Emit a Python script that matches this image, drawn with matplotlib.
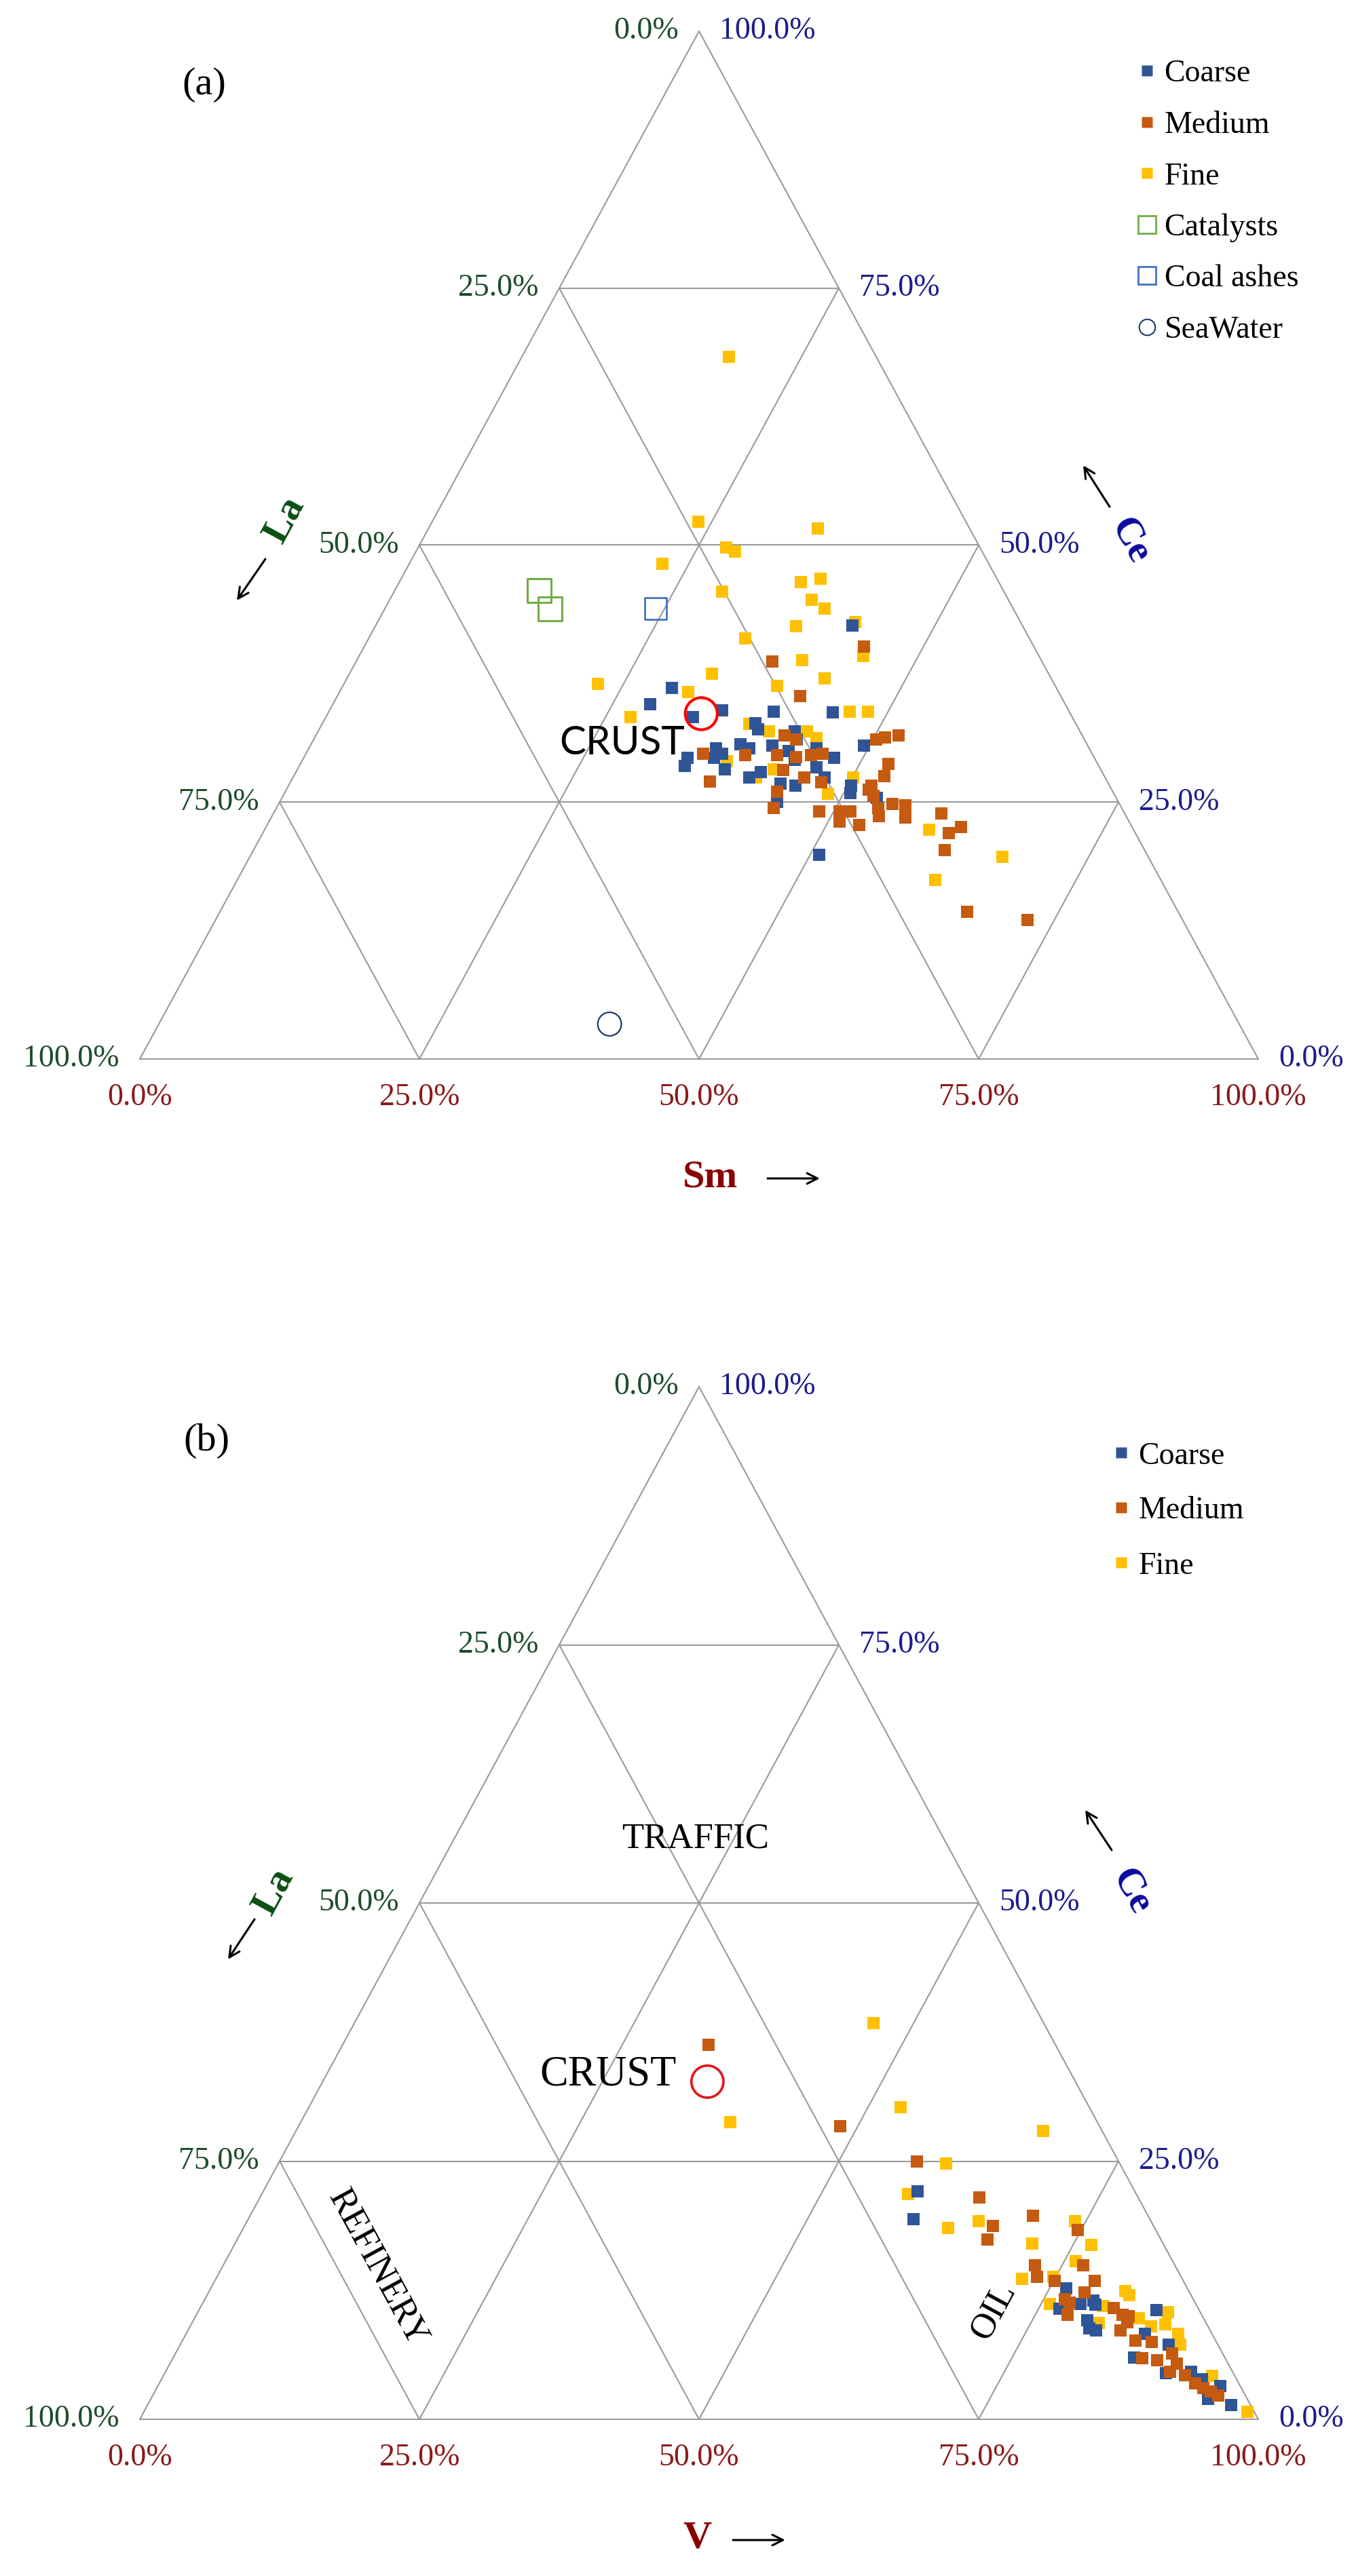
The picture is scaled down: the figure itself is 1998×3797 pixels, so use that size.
import matplotlib
matplotlib.use('Agg')
import matplotlib.pyplot as plt
from matplotlib.lines import Line2D
import numpy as np

plt.rcParams['font.family'] = ['Liberation Serif', 'DejaVu Serif']

# ---------------- panel (a): La - Ce - Sm  (percent, La = 100 - Sm - Ce)
sm_coarse_a = [42.6, 29.5, 28.4, 32.8, 35.1, 39.8, 45.1, 38.7, 39.2, 42.6, 43.2, 49.5,
               38.4, 39.4, 36.4, 37.2, 36.7, 34.3, 34.5, 41.3, 43.0, 45.4, 47.4, 44.0,
               38.2, 41.6, 40.8, 46.3, 47.5, 43.9, 45.3, 50.3, 50.6, 44.5, 50.8, 53.2]
ce_coarse_a = [42.2, 36.1, 34.5, 33.3, 33.9, 33.8, 33.7, 32.7, 32.1, 31.9, 31.1, 30.5,
               30.6, 30.2, 30.2, 29.7, 29.3, 29.3, 28.5, 30.5, 30.0, 30.2, 29.3, 29.1,
               28.2, 27.9, 27.4, 28.4, 27.4, 26.8, 26.6, 26.6, 25.9, 25.0, 19.9, 25.4]

sm_medium_a = [44.7, 37.2, 41.4, 41.9, 43.1, 35.5, 39.3, 42.2, 44.0, 45.2, 46.2, 43.5,
               45.7, 47.5, 37.5, 44.0, 44.5, 48.7, 50.3, 51.0, 52.1, 52.6, 52.8, 52.1,
               52.8, 53.8, 54.3, 54.9, 56.1, 56.7, 50.5, 51.0, 51.5, 52.9, 59.7, 61.3,
               62.1, 61.8, 66.8, 72.6, 52.1]
ce_medium_a = [40.1, 38.7, 35.3, 31.5, 31.1, 29.7, 29.6, 29.6, 29.4, 29.6, 29.7, 28.1,
               27.4, 26.9, 27.0, 26.0, 24.4, 24.1, 31.1, 31.3, 31.5, 28.7, 27.5, 26.2,
               25.6, 24.4, 23.6, 24.8, 24.7, 23.5, 24.1, 23.1, 24.1, 22.8, 23.9, 22.0,
               22.6, 20.3, 14.3, 13.5, 26.6]

sm_fine_a = [18.5, 23.8, 34.8, 27.5, 28.5, 22.6, 35.9, 37.5, 37.7, 39.3, 29.3, 37.6,
             42.7, 33.7, 45.1, 39.8, 32.4, 42.7, 38.8, 31.2, 27.2, 22.7, 46.6, 48.2,
             38.2, 40.3, 43.7, 44.9, 38.0, 41.4, 42.6, 48.6, 50.1, 59.4, 67.3, 62.4]
ce_fine_a = [68.3, 52.3, 51.6, 49.8, 49.4, 48.2, 46.4, 46.7, 44.7, 43.8, 45.5, 42.1,
             42.5, 40.9, 39.2, 38.8, 37.5, 37.0, 36.3, 35.7, 33.3, 36.5, 33.8, 33.8,
             32.6, 31.9, 31.9, 31.2, 29.0, 27.4, 28.2, 25.8, 27.4, 22.3, 19.7, 17.4]

sm_catalysts = [12.9, 14.8]
ce_catalysts = [45.6, 43.8]
sm_coal = [24.2]
ce_coal = [43.8]
sm_seawater = [40.3]
ce_seawater = [3.4]
sm_crust = [33.4]
ce_crust = [33.6]

# ---------------- panel (b): La - Ce - V  (percent, La = 100 - V - Ce)
v_coarse_b = [58.5, 59.5, 76.5, 76.9, 78.5, 79.5, 79.9, 79.9, 80.5, 81.2, 85.6, 88.4,
              85.9, 85.7, 89.5, 91.7, 93.0, 95.0, 96.9, 94.5]
ce_coarse_b = [22.1, 19.4, 12.7, 10.7, 11.2, 11.5, 11.1, 9.6, 8.8, 8.6, 10.6, 7.2,
               6.0, 8.3, 4.5, 4.6, 3.9, 3.2, 1.4, 2.0]

v_medium_b = [32.7, 48.4, 57.0, 64.3, 66.9, 67.1, 70.0, 74.7, 76.9, 72.6, 73.3, 75.1,
              78.7, 78.3, 76.9, 77.5, 77.9, 81.7, 82.8, 83.6, 83.4, 85.2, 86.7, 86.7,
              88.1, 89.1, 90.0, 89.8, 91.3, 92.6, 93.6, 94.4, 95.3, 83.4]
ce_medium_b = [36.3, 28.4, 25.0, 21.5, 18.7, 17.4, 19.7, 18.3, 14.9, 14.9, 13.8, 13.4,
               13.4, 12.3, 11.6, 11.3, 10.1, 10.8, 10.1, 9.4, 8.6, 7.6, 7.5, 5.9,
               5.7, 6.4, 5.4, 4.6, 4.3, 3.5, 3.0, 2.7, 2.3, 10.0]

v_fine_b = [46.4, 38.4, 52.9, 66.8, 59.7, 57.8, 63.0, 65.4, 71.3, 74.0, 76.6, 76.0,
            72.1, 74.8, 75.8, 81.9, 82.5, 80.6, 84.4, 86.7, 87.1, 85.9, 88.7, 89.4,
            93.8, 98.7, 81.1]
ce_fine_b = [38.4, 28.8, 30.2, 27.9, 24.8, 21.8, 18.5, 19.2, 17.0, 19.2, 16.9, 15.3,
             13.6, 13.8, 11.2, 12.4, 12.0, 11.0, 9.8, 10.4, 9.2, 9.0, 8.3, 7.2,
             4.2, 0.7, 9.3]

v_crust = [34.4]
ce_crust_b = [32.7]

tick_vals = [0, 25, 50, 75, 100]

# colours
COARSE = '#2F5597'
MEDIUM = '#C55A11'
FINE = '#FFC000'
GRID = '#9a9a9a'
LA_TICK, CE_TICK, B_TICK = '#1E4D2B', '#1C1C8C', '#8B1A1A'
LA_NAME, CE_NAME, B_NAME = '#0B4F14', '#0A0AA0', '#8B0000'
SQ = 185  # data square size (pt^2)

W, H, DPI = 1999, 3797, 100
fig = plt.figure(figsize=(W / DPI, H / DPI), dpi=DPI)
X0, X1 = 206, 1854


def panel(top, bottom, base, apex):
    ax = fig.add_axes([0, 1 - bottom / H, 1, (bottom - top) / H])
    sx = (X1 - X0) / 100.
    sy = (base - apex) / 100.
    ax.set_xlim(-X0 / sx, (W - X0) / sx)
    ax.set_ylim((base - bottom) / sy, (base - top) / sy)
    ax.axis('off')

    def px(x, y):
        return ((x - X0) / sx, (base - y) / sy)
    return ax, px


def tern(b, c):
    b = np.asarray(b, float)
    c = np.asarray(c, float)
    return b + c / 2, c


def frame(ax):
    for v in [0, 25, 50, 75]:
        kw = dict(color=GRID, lw=1.5, zorder=1, solid_capstyle='round')
        ax.plot([v / 2, 100 - v / 2], [v, v], **kw)
        ax.plot([v, v + (100 - v) / 2], [0, 100 - v], **kw)
        ax.plot([100 - v, (100 - v) / 2], [0, 100 - v], **kw)
    for v in tick_vals:
        lab = '%.1f%%' % v
        ax.annotate(lab, ((100 - v) / 2, 100 - v), xytext=(-30, 0), textcoords='offset pixels',
                    ha='right', va='center', color=LA_TICK, fontsize=33)
        ax.annotate(lab, (100 - v / 2, v), xytext=(30, 0), textcoords='offset pixels',
                    ha='left', va='center', color=CE_TICK, fontsize=33)
        ax.annotate(lab, (v, 0), xytext=(0, -57), textcoords='offset pixels',
                    ha='center', va='center', color=B_TICK, fontsize=33)


def arrow(ax, tail, head):
    ax.annotate('', xy=head, xytext=tail,
                arrowprops=dict(arrowstyle='->', lw=2.2, color='black',
                                mutation_scale=28, shrinkA=0, shrinkB=0))


# ================= (a)
ax, px = panel(0, 1898, 1561, 46)
frame(ax)
x, y = tern(sm_fine_a, ce_fine_a)
ax.scatter(x, y, marker='s', s=SQ, color=FINE, linewidths=0, zorder=3)
x, y = tern(sm_coarse_a, ce_coarse_a)
ax.scatter(x, y, marker='s', s=SQ, color=COARSE, linewidths=0, zorder=4)
x, y = tern(sm_medium_a, ce_medium_a)
ax.scatter(x, y, marker='s', s=SQ, color=MEDIUM, linewidths=0, zorder=5)
x, y = tern(sm_catalysts, ce_catalysts)
ax.scatter(x, y, marker='s', s=25 ** 2, facecolors='none', edgecolors='#70AD47', linewidths=2.2, zorder=6)
x, y = tern(sm_coal, ce_coal)
ax.scatter(x, y, marker='s', s=23 ** 2, facecolors='none', edgecolors='#4472C4', linewidths=2.0, zorder=6)
x, y = tern(sm_seawater, ce_seawater)
ax.scatter(x, y, marker='o', s=25 ** 2, facecolors='none', edgecolors='#1F3864', linewidths=1.6, zorder=6)
x, y = tern(sm_crust, ce_crust)
ax.scatter(x, y, marker='o', s=34 ** 2, facecolors='none', edgecolors='#FF0000', linewidths=3, zorder=7)
ax.text(*px(824, 1095), 'CRUST', ha='left', va='center', fontsize=42,
        family=['Lato', 'DejaVu Sans'], zorder=8)

ax.text(*px(301, 125), '(a)', ha='center', va='center', fontsize=42)
ax.text(*px(420, 766), 'La', rotation=61.5, rotation_mode='anchor', ha='center', va='center',
        fontsize=42, fontweight='bold', color=LA_NAME)
arrow(ax, px(391, 824), px(349, 885))
ax.text(*px(1665, 797), 'Ce', rotation=-61.5, rotation_mode='anchor', ha='center', va='center',
        fontsize=42, fontweight='bold', color=CE_NAME)
arrow(ax, px(1635, 747), px(1596, 686))
ax.text(*px(1046, 1735), 'Sm', ha='center', va='center', fontsize=42, fontweight='bold', color=B_NAME)
arrow(ax, px(1131, 1737), px(1208, 1737))

handles_a = [
    Line2D([], [], ls='none', marker='s', ms=11, mfc=COARSE, mec='none', label='Coarse'),
    Line2D([], [], ls='none', marker='s', ms=11, mfc=MEDIUM, mec='none', label='Medium'),
    Line2D([], [], ls='none', marker='s', ms=11, mfc=FINE, mec='none', label='Fine'),
    Line2D([], [], ls='none', marker='s', ms=19, mfc='none', mec='#70AD47', mew=2, label='Catalysts'),
    Line2D([], [], ls='none', marker='s', ms=19, mfc='none', mec='#4472C4', mew=2, label='Coal ashes'),
    Line2D([], [], ls='none', marker='o', ms=17, mfc='none', mec='#1F3864', mew=1.5, label='SeaWater'),
]
ax.legend(handles=handles_a, loc='upper left', bbox_to_anchor=(1672 / W, 1 - 88 / H),
          bbox_transform=fig.transFigure, frameon=False, fontsize=33, borderpad=0,
          borderaxespad=0, handlelength=0.8, handletextpad=0.15, labelspacing=0.72)

# ================= (b)
ax, px = panel(1898, 3797, 3566, 2044)
frame(ax)
x, y = tern(v_fine_b, ce_fine_b)
ax.scatter(x, y, marker='s', s=SQ, color=FINE, linewidths=0, zorder=3)
x, y = tern(v_coarse_b, ce_coarse_b)
ax.scatter(x, y, marker='s', s=SQ, color=COARSE, linewidths=0, zorder=4)
x, y = tern(v_medium_b, ce_medium_b)
ax.scatter(x, y, marker='s', s=SQ, color=MEDIUM, linewidths=0, zorder=5)
x, y = tern(v_crust, ce_crust_b)
ax.scatter(x, y, marker='o', s=34 ** 2, facecolors='none', edgecolors='#E3141B', linewidths=2.6, zorder=7)

ax.text(*px(795, 3058), 'CRUST', ha='left', va='center', fontsize=45, zorder=8)
ax.text(*px(1025, 2711), 'TRAFFIC', ha='center', va='center', fontsize=38)
ax.text(*px(556, 3343), 'REFINERY', rotation=-61.5, rotation_mode='anchor',
        ha='center', va='center', fontsize=38)
ax.text(*px(1464, 3406), 'OIL', rotation=61.5, rotation_mode='anchor',
        ha='center', va='center', fontsize=38)

ax.text(*px(304, 2124), '(b)', ha='center', va='center', fontsize=42)
ax.text(*px(404, 2788), 'La', rotation=61.5, rotation_mode='anchor', ha='center', va='center',
        fontsize=42, fontweight='bold', color=LA_NAME)
arrow(ax, px(375, 2829), px(336, 2888))
ax.text(*px(1667, 2788), 'Ce', rotation=-61.5, rotation_mode='anchor', ha='center', va='center',
        fontsize=42, fontweight='bold', color=CE_NAME)
arrow(ax, px(1638, 2727), px(1599, 2668))
ax.text(*px(1027, 3742), 'V', ha='center', va='center', fontsize=42, fontweight='bold', color=B_NAME)
arrow(ax, px(1080, 3744), px(1157, 3744))

handles_b = handles_a[:3]
ax.legend(handles=handles_b, loc='upper left', bbox_to_anchor=(1634 / W, 1 - 2125 / H),
          bbox_transform=fig.transFigure, frameon=False, fontsize=33, borderpad=0,
          borderaxespad=0, handlelength=0.8, handletextpad=0.15, labelspacing=0.84)

fig.savefig('out.png', dpi=DPI)
